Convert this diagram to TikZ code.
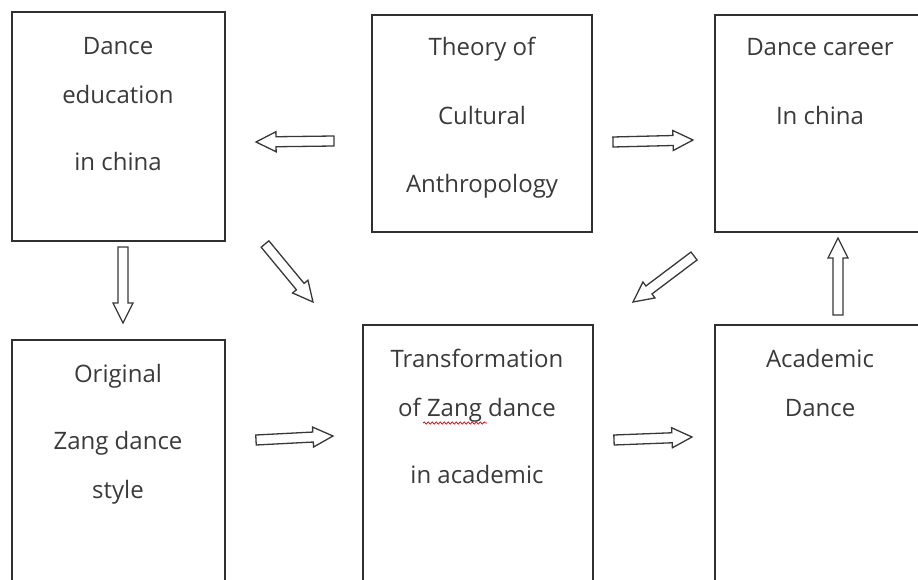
\documentclass[tikz,border=0pt]{standalone}
\usepackage{fontspec}
\setmainfont{Open Sans}
\usetikzlibrary{calc,decorations.pathmorphing}
\definecolor{txt}{HTML}{3A3A3A}
\definecolor{ln}{HTML}{303030}
\tikzset{
  box/.style={draw=ln, line width=1.4pt, rectangle, inner sep=0pt, outer sep=0pt, anchor=north west},
  lbl/.style={text=txt, font=\fontsize{24}{28}\selectfont, anchor=base, inner sep=0pt},
  barrow/.style={draw=black!78, line width=1.3pt, fill=white, line join=miter},
  squig/.style={draw=red!85!black, line width=0.7pt, decorate, decoration={snake, amplitude=1.1pt, segment length=4pt}}
}
\newcommand\blockarr[2]{%
  \coordinate (hb) at ($(#2)!20pt!(#1)$);
  \draw[barrow] ($(#1)!5pt!90:(#2)$) -- ($(hb)!5pt!90:(#2)$) -- ($(hb)!10pt!90:(#2)$) -- (#2)
    -- ($(hb)!10pt!-90:(#2)$) -- ($(hb)!5pt!-90:(#2)$) -- ($(#1)!5pt!-90:(#2)$) -- cycle;
}
\begin{document}
\begin{tikzpicture}[x=1pt,y=-1pt]
\useasboundingbox (0,0) rectangle (918,580);
\clip (0,0) rectangle (918,580);
% boxes
\node[box, minimum width=213, minimum height=229] (edu) at (12,12) {};
\node[box, minimum width=220, minimum height=217] (theory) at (372,15) {};
\node[box, minimum width=240, minimum height=217] (career) at (715,15) {};
\node[box, minimum width=213, minimum height=270] (orig) at (12,340) {};
\node[box, minimum width=230, minimum height=285] (trans) at (363,325) {};
\node[box, minimum width=240, minimum height=285] (acad) at (715,325) {};
% texts
\node[lbl] (a1) at (118,55) {Dance};
\node[lbl] (a2) at (118,104) {education};
\node[lbl] (a3) at (118,171) {in china};
\node[lbl] (b1) at (482,56) {Theory of};
\node[lbl] (b2) at (482,125) {Cultural};
\node[lbl] (b3) at (482,193) {Anthropology};
\node[lbl] (c1) at (820,56) {Dance career};
\node[lbl] (c2) at (820,125) {In china};
\node[lbl] (d1) at (118,382) {Original};
\node[lbl] (d2) at (118,449) {Zang dance};
\node[lbl] (d3) at (118,498) {style};
\node[lbl] (e1) at (477,367) {Transformation};
\node[lbl] (e2) at (477,416) {of Zang dance};
\node[lbl] (e3) at (477,483) {in academic};
\node[lbl] (f1) at (820,367) {Academic};
\node[lbl] (f2) at (820,416) {Dance};
% spell-check squiggle
\coordinate (sq1) at (423,423);
\coordinate (sq2) at (487,423);
\draw[squig] (sq1) -- (sq2);
% arrow end points
\coordinate (p1s) at (334,141); \coordinate (p1e) at (256,142);
\coordinate (p2s) at (613,142); \coordinate (p2e) at (693,140);
\coordinate (p3s) at (265,244); \coordinate (p3e) at (313,302);
\coordinate (p4s) at (694,256); \coordinate (p4e) at (633,302);
\coordinate (p5s) at (123,247); \coordinate (p5e) at (123,323);
\coordinate (p6s) at (838,315); \coordinate (p6e) at (838,238);
\coordinate (p7s) at (256,440); \coordinate (p7e) at (333,436);
\coordinate (p8s) at (614,440); \coordinate (p8e) at (692,437);
\blockarr{p1s}{p1e}
\blockarr{p2s}{p2e}
\blockarr{p3s}{p3e}
\blockarr{p4s}{p4e}
\blockarr{p5s}{p5e}
\blockarr{p6s}{p6e}
\blockarr{p7s}{p7e}
\blockarr{p8s}{p8e}
\end{tikzpicture}
\end{document}
